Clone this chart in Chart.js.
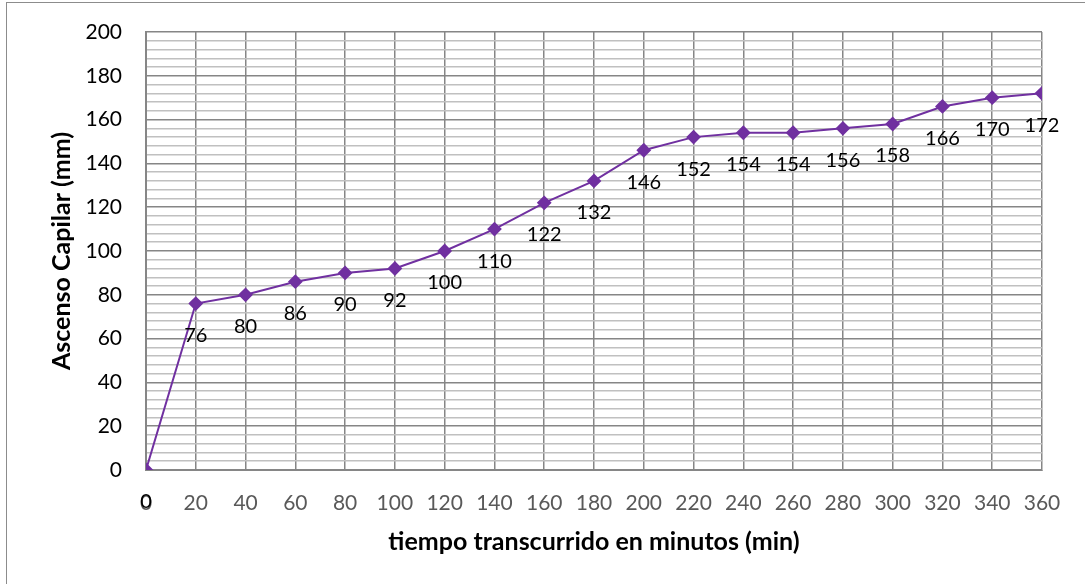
<!DOCTYPE html>
<html>
<head>
<meta charset="utf-8">
<script src="https://cdn.jsdelivr.net/npm/chart.js@4"></script>
<style>
  html, body { margin: 0; padding: 0; background: #fff; overflow: hidden; }
  #frame { position: absolute; left: 6px; top: 2px; width: 1200px; height: 700px; border: 1px solid #8c8c8c; box-sizing: border-box; }
  #wrap { position: absolute; left: 0; top: 0; width: 1085px; height: 584px; }
</style>
</head>
<body>
<div id="frame"></div>
<div id="wrap"><canvas id="c" width="1085" height="584"></canvas></div>
<script>
const minutes = [0, 20, 40, 60, 80, 100, 120, 140, 160, 180, 200, 220, 240, 260, 280, 300, 320, 340, 360];
const ascenso = [0, 76, 80, 86, 90, 92, 100, 110, 122, 132, 146, 152, 154, 154, 156, 158, 166, 170, 172];
const xTitle = 'tiempo transcurrido en minutos (min)';
const yTitle = 'Ascenso Capilar (mm)';

const FONT = 'Lato, "Open Sans", sans-serif';

const labelPlugin = {
  id: 'pointLabels',
  afterDatasetsDraw(chart) {
    const ctx = chart.ctx;
    const meta = chart.getDatasetMeta(0);
    ctx.save();
    ctx.font = '20px ' + FONT;
    ctx.fillStyle = '#000';
    ctx.textAlign = 'center';
    ctx.textBaseline = 'middle';
    meta.data.forEach((pt, i) => {
      ctx.fillText(String(ascenso[i]), pt.x, pt.y + 32);
    });
    ctx.restore();
  }
};

new Chart(document.getElementById('c'), {
  type: 'line',
  data: {
    datasets: [{
      data: minutes.map((m, i) => ({ x: m, y: ascenso[i] })),
      borderColor: '#7030A0',
      backgroundColor: '#7030A0',
      borderWidth: 2,
      pointStyle: 'rectRot',
      pointRadius: 6,
      pointHoverRadius: 6,
      tension: 0,
      fill: false
    }]
  },
  options: {
    responsive: false,
    animation: false,
    events: [],
    layout: { padding: { top: 32, right: 43, bottom: 0, left: 0 } },
    plugins: { legend: { display: false }, tooltip: { enabled: false }, title: { display: false } },
    scales: {
      x: {
        type: 'linear',
        min: 0, max: 360,
        afterFit(s) { s.height = 114; s.paddingLeft = 0; s.paddingRight = 0; },
        ticks: { stepSize: 20, autoSkip: false, maxRotation: 0, color: '#595959', font: { family: FONT, size: 21 }, padding: 21 },
        grid: { color: '#868686', lineWidth: 1.5, tickLength: 0 },
        border: { color: '#868686', width: 2 },
        title: { display: true, text: xTitle, color: '#000', font: { family: FONT, size: 25, weight: 'bold' }, padding: { top: 0, bottom: 27 } }
      },
      y: {
        min: 0, max: 200,
        afterFit(s) { s.width = 146; s.paddingTop = 0; s.paddingBottom = 0; },
        ticks: {
          stepSize: 4, autoSkip: false, color: '#000', font: { family: FONT, size: 21 }, padding: 24,
          callback: (v) => (v % 20 === 0 ? String(v) : '')
        },
        grid: {
          tickLength: 0,
          color: (c) => (c.tick && c.tick.value % 20 === 0 ? '#868686' : '#c0c0c0'),
          lineWidth: 1.5
        },
        border: { color: '#868686', width: 2 },
        title: { display: true, text: yTitle, color: '#000', font: { family: FONT, size: 25, weight: 'bold' }, padding: { top: 47, bottom: 0 } }
      }
    }
  },
  plugins: [labelPlugin]
});
</script>
</body>
</html>
